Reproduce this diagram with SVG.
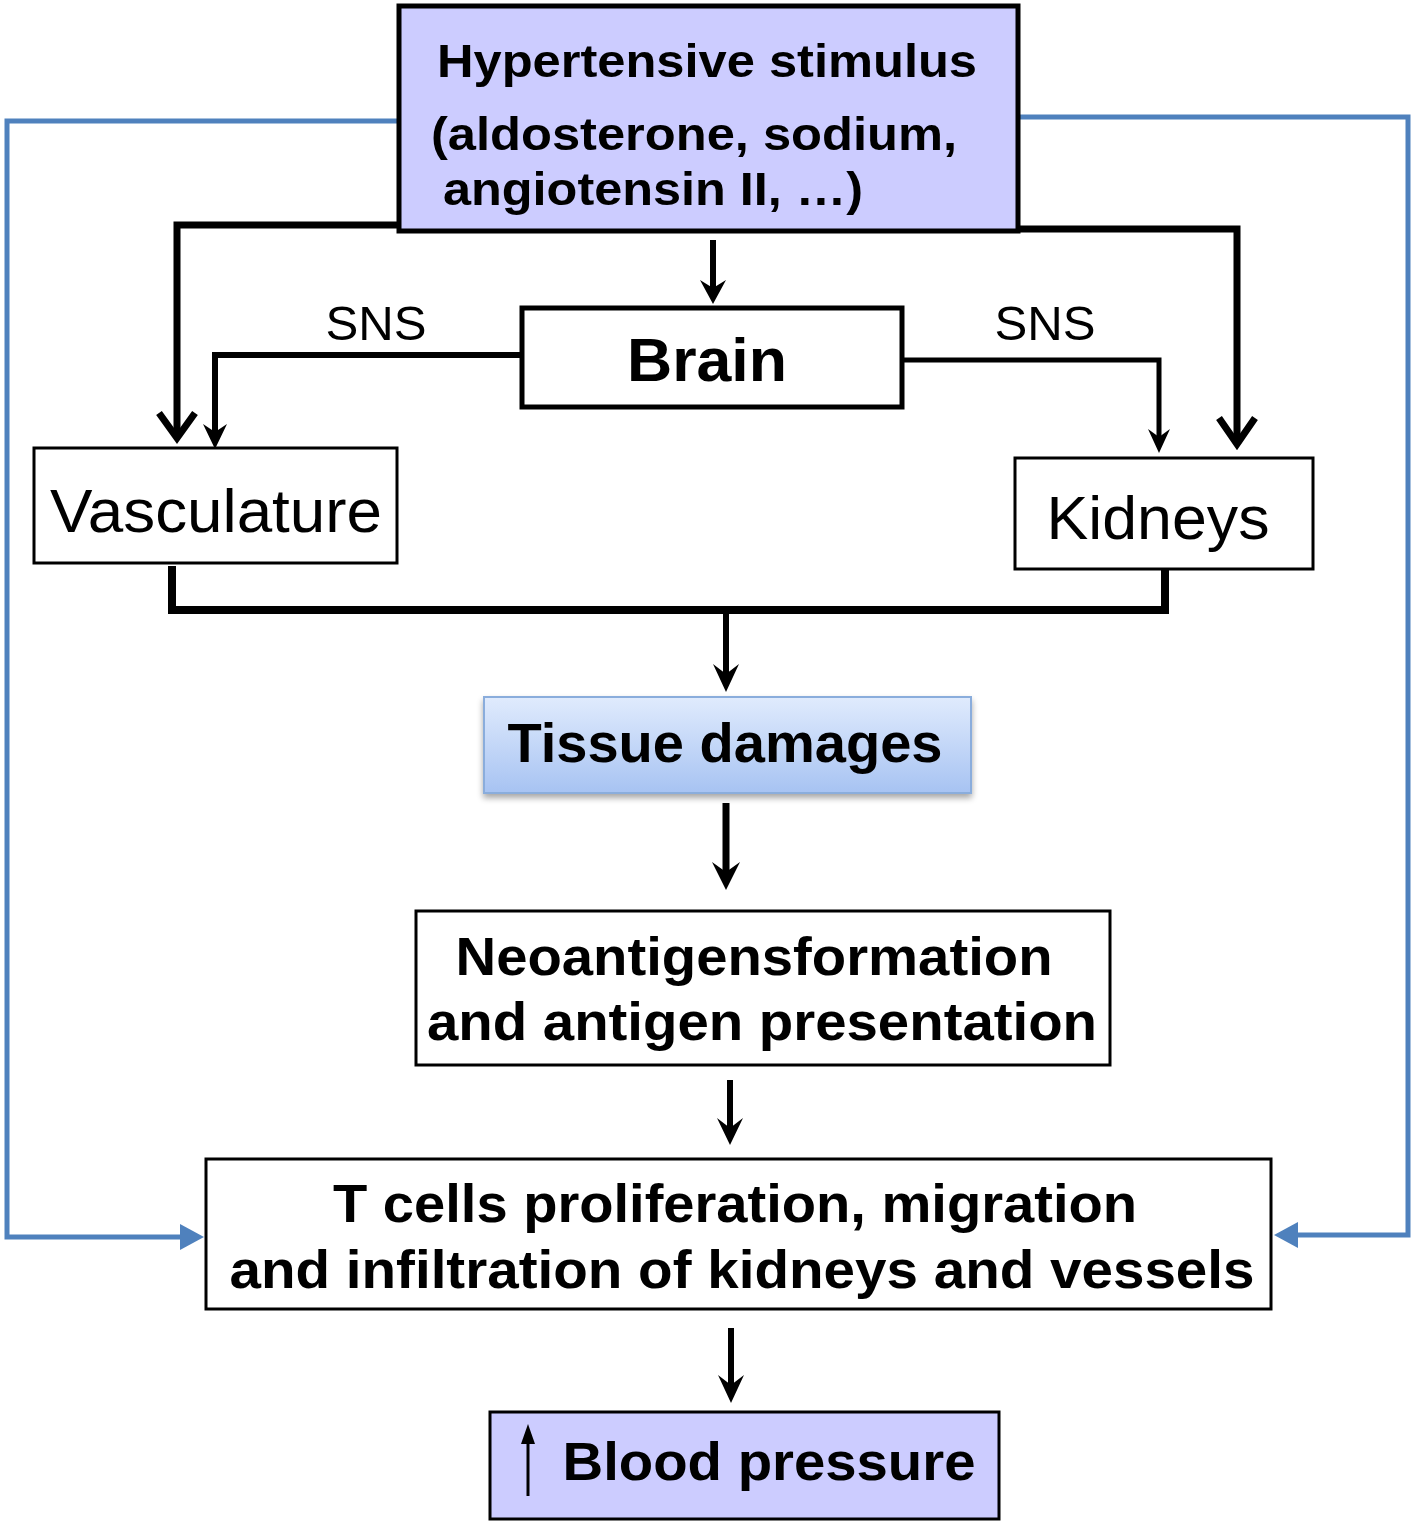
<svg xmlns="http://www.w3.org/2000/svg" width="1417" height="1531" viewBox="0 0 1417 1531">
<defs>
<style>
.box{stroke:#000;}
.lav{fill:#ccccff;}
.wht{fill:#fff;}
.tb{font-family:"Liberation Sans",Arial,sans-serif;font-weight:bold;fill:#000;}
.tr{font-family:"Liberation Sans",Arial,sans-serif;fill:#000;}
.blk{fill:none;stroke:#000;stroke-linejoin:miter;}
.blue{fill:none;stroke:#4f81bd;stroke-width:5;}
.chev{fill:none;stroke:#000;stroke-width:7;stroke-linecap:butt;stroke-linejoin:miter;}
</style>
<linearGradient id="tg" x1="0" y1="0" x2="0" y2="1">
<stop offset="0" stop-color="#e0ebfd"/>
<stop offset="1" stop-color="#a7c3f2"/>
</linearGradient>
<filter id="sh" x="-10%" y="-10%" width="120%" height="140%">
<feGaussianBlur in="SourceAlpha" stdDeviation="3"/>
<feOffset dx="0" dy="4"/>
<feComponentTransfer><feFuncA type="linear" slope="0.35"/></feComponentTransfer>
<feMerge><feMergeNode/><feMergeNode in="SourceGraphic"/></feMerge>
</filter>
</defs>
<rect width="1417" height="1531" fill="#fff"/>

<g id="connectors">
<polyline class="blue" points="397,121 7,121 7,1237 185,1237"/>
<polygon points="204,1237 180,1224 180,1250" fill="#4f81bd"/>
<polyline class="blue" points="1019,117 1408,117 1408,1235 1292,1235"/>
<polygon points="1274,1235 1298,1222 1298,1248" fill="#4f81bd"/>

<polyline class="blk" stroke-width="7" points="397,225 177,225 177,438"/>
<polyline class="chev" points="159,413 177,438 195,413"/>
<polyline class="blk" stroke-width="7" points="1019,229 1237,229 1237,444"/>
<polyline class="chev" points="1219,418 1237,444 1255,418"/>
<line x1="713" y1="240" x2="713" y2="290" stroke="#000" stroke-width="6"/>
<polygon points="713,304 700,280 713,288 726,280" fill="#000"/>
<polyline class="blk" stroke-width="6" points="521,355 215,355 215,432"/>
<polygon points="215,449 203,424 215,432 227,424" fill="#000"/>
<polyline class="blk" stroke-width="5" points="903,360 1159,360 1159,437"/>
<polygon points="1159,453 1148,429 1159,437 1170,429" fill="#000"/>
<polyline class="blk" stroke-width="8" points="172,566 172,610 1165,610 1165,569"/>
<line x1="726" y1="610" x2="726" y2="674" stroke="#000" stroke-width="6"/>
<polygon points="726,692 713,664 726,674 739,664" fill="#000"/>
<line x1="726" y1="803" x2="726" y2="872" stroke="#000" stroke-width="7"/>
<polygon points="726,890 712,862 726,872 740,862" fill="#000"/>
<line x1="730" y1="1080" x2="730" y2="1128" stroke="#000" stroke-width="6"/>
<polygon points="730,1145 717,1118 730,1128 743,1118" fill="#000"/>
<line x1="731" y1="1328" x2="731" y2="1385" stroke="#000" stroke-width="6"/>
<polygon points="731,1403 718,1375 731,1385 744,1375" fill="#000"/>
</g>

<g id="stimulus">
<rect class="box lav" x="399" y="6" width="619" height="225" stroke-width="5"/>
<text class="tb" x="707" y="77" font-size="46" text-anchor="middle" textLength="540" lengthAdjust="spacingAndGlyphs">Hypertensive stimulus</text>
<text class="tb" x="694" y="150" font-size="46" text-anchor="middle" textLength="526" lengthAdjust="spacingAndGlyphs">(aldosterone, sodium,</text>
<text class="tb" x="653" y="205" font-size="46" text-anchor="middle" textLength="420" lengthAdjust="spacingAndGlyphs">angiotensin II, …)</text>
</g>

<g id="brain">
<rect class="box wht" x="522" y="308" width="380" height="99" stroke-width="5"/>
<text class="tb" x="707" y="381" font-size="61" text-anchor="middle" textLength="160" lengthAdjust="spacingAndGlyphs">Brain</text>
</g>

<g id="sns-labels">
<text class="tr" x="376" y="340" font-size="48" text-anchor="middle" textLength="101" lengthAdjust="spacingAndGlyphs">SNS</text>
<text class="tr" x="1045" y="340" font-size="48" text-anchor="middle" textLength="101" lengthAdjust="spacingAndGlyphs">SNS</text>
</g>

<g id="vasculature">
<rect class="box wht" x="34" y="448" width="363" height="115" stroke-width="3"/>
<text class="tr" x="216" y="532" font-size="62" text-anchor="middle" textLength="332" lengthAdjust="spacingAndGlyphs">Vasculature</text>
</g>

<g id="kidneys">
<rect class="box wht" x="1015" y="458" width="298" height="111" stroke-width="3"/>
<text class="tr" x="1158" y="539" font-size="62" text-anchor="middle" textLength="223" lengthAdjust="spacingAndGlyphs">Kidneys</text>
</g>

<g id="tissue">
<rect x="484" y="697" width="487" height="96" fill="url(#tg)" stroke="#8aaddc" stroke-width="2" filter="url(#sh)"/>
<text class="tb" x="725" y="762" font-size="56" text-anchor="middle" textLength="435" lengthAdjust="spacingAndGlyphs">Tissue damages</text>
</g>

<g id="neoantigens">
<rect class="box wht" x="416" y="911" width="694" height="154" stroke-width="3"/>
<text class="tb" x="754" y="975" font-size="54" text-anchor="middle" textLength="597" lengthAdjust="spacingAndGlyphs">Neoantigensformation</text>
<text class="tb" x="762" y="1040" font-size="54" text-anchor="middle" textLength="670" lengthAdjust="spacingAndGlyphs">and antigen presentation</text>
</g>

<g id="tcells">
<rect class="box wht" x="206" y="1159" width="1065" height="150" stroke-width="3"/>
<text class="tb" x="735" y="1222" font-size="54" text-anchor="middle" textLength="804" lengthAdjust="spacingAndGlyphs">T cells proliferation, migration</text>
<text class="tb" x="742" y="1288" font-size="54" text-anchor="middle" textLength="1025" lengthAdjust="spacingAndGlyphs">and infiltration of kidneys and vessels</text>
</g>

<g id="bloodpressure">
<rect class="box lav" x="490" y="1412" width="509" height="107" stroke-width="3"/>
<line x1="528" y1="1496" x2="528" y2="1440" stroke="#000" stroke-width="3"/>
<polygon points="528,1424 521,1444 535,1444" fill="#000"/>
<text class="tb" x="769" y="1480" font-size="54" text-anchor="middle" textLength="413" lengthAdjust="spacingAndGlyphs">Blood pressure</text>
</g>
</svg>
